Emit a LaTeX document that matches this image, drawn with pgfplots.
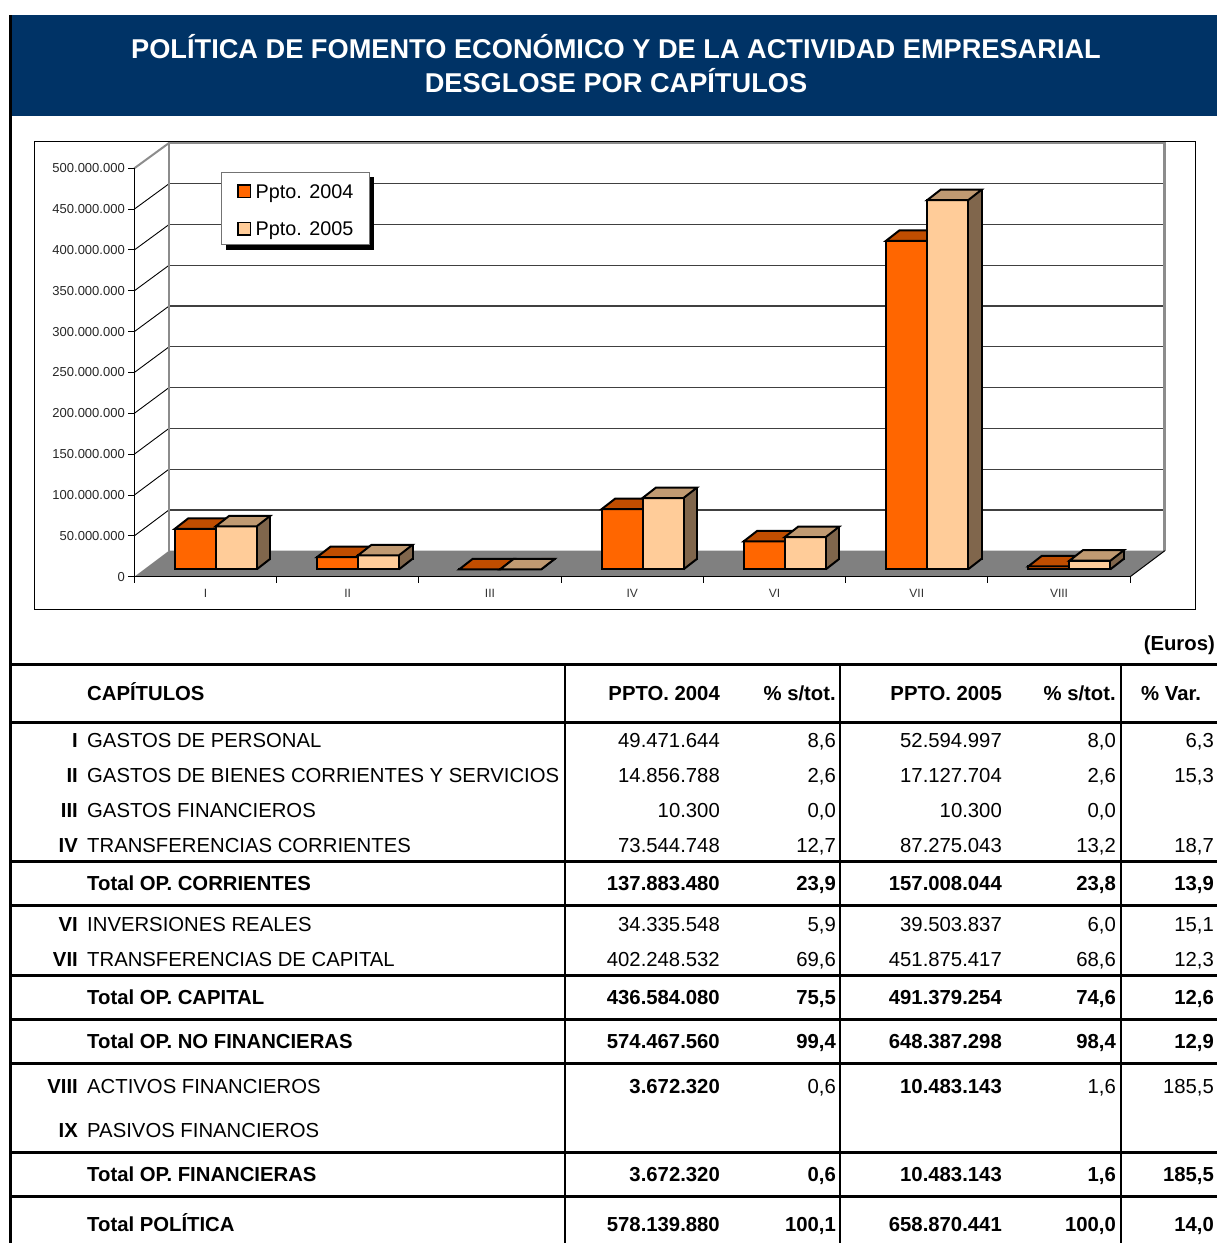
\documentclass[border=0pt]{standalone}
\usepackage{pgfplots}
\pgfplotsset{compat=1.18}
\usepackage{pgfplotstable}
\usepackage{fontspec}
\setmainfont{Liberation Sans}
\definecolor{navy}{HTML}{003366}
\definecolor{orF}{HTML}{FF6600}
\definecolor{orT}{HTML}{C04D00}
\definecolor{ltF}{HTML}{FFCC99}
\definecolor{ltT}{HTML}{C09A72}
\definecolor{ltS}{HTML}{80664C}
\definecolor{wallgray}{HTML}{8C8C8C}

\pgfplotstableread{
x v04 v05
0.5 49471644 52594997
1.5 14856788 17127704
2.5 10300 10300
3.5 73544748 87275043
4.5 34335548 39503837
5.5 402248532 451875417
6.5 3672320 10483143
}\budget

% top face of a bar (mark at front top edge, x0..x1)
\newcommand\topface[3]{%
  \pgfsetlinewidth{2pt}\pgfsetmiterjoin
  \pgfsetstrokecolor{black}\pgfsetfillcolor{#3}%
  \pgfpathmoveto{\pgfqpoint{#1}{0pt}}%
  \pgfpathlineto{\pgfqpoint{#2}{0pt}}%
  \pgfpathlineto{\pgfqpoint{\dimexpr#2+13.5pt\relax}{10.5pt}}%
  \pgfpathlineto{\pgfqpoint{\dimexpr#1+13.5pt\relax}{10.5pt}}%
  \pgfpathclose
  \pgfusepath{fill,stroke}}
\pgfdeclareplotmark{top04}{\topface{-41pt}{0pt}{orT}}
\pgfdeclareplotmark{top05}{\topface{0pt}{41pt}{ltT}}
% lower corner of the side face (mark at bar foot)
\pgfdeclareplotmark{bot05}{%
  \pgfsetfillcolor{ltS}%
  \pgfpathmoveto{\pgfqpoint{41pt}{0pt}}%
  \pgfpathlineto{\pgfqpoint{54.5pt}{10.5pt}}%
  \pgfpathlineto{\pgfqpoint{54.5pt}{11.5pt}}%
  \pgfpathlineto{\pgfqpoint{41pt}{11.5pt}}%
  \pgfpathclose
  \pgfusepath{fill}%
  \pgfsetlinewidth{2pt}\pgfsetstrokecolor{black}%
  \pgfpathmoveto{\pgfqpoint{41pt}{0pt}}%
  \pgfpathlineto{\pgfqpoint{54.5pt}{10.5pt}}%
  \pgfusepath{stroke}}

\newcommand\tf{\fontsize{20.3}{24}\selectfont}
\newcommand\trow[9]{% y, numeral, name, v1, p1, v2, p2, var, font
  \node[anchor=base east] at (78,#1+7) {#9\bfseries #2};
  \node[anchor=base west] at (87,#1+7) {#9#3};
  \node[anchor=base east] at (720,#1+7) {#9#4};
  \node[anchor=base east] at (836,#1+7) {#9#5};
  \node[anchor=base east] at (1002,#1+7) {#9#6};
  \node[anchor=base east] at (1116,#1+7) {#9#7};
  \node[anchor=base east] at (1214,#1+7) {#9#8};
}
\pgfplotsset{barax/.style={anchor=south west, scale only axis,
  width=995.9pt, height=408.4pt, xmin=0, xmax=7, ymin=0, ymax=500000000,
  hide axis, clip=false}}

\begin{document}
\begin{tikzpicture}[x=1pt,y=-1pt]
\useasboundingbox (0,0) rectangle (1217,1243);
\clip (0,0) rectangle (1217,1243);
% header
\fill[navy] (12,15) rectangle (1217,116);
\draw[line width=3pt] (10.5,15) -- (10.5,1243);
\node[text=white, font=\fontsize{27.2}{30}\selectfont\bfseries] at (616,47) {POLÍTICA DE FOMENTO ECONÓMICO Y DE LA ACTIVIDAD EMPRESARIAL};
\node[text=white, font=\fontsize{27.2}{30}\selectfont\bfseries] at (616,81) {DESGLOSE POR CAPÍTULOS};

% chart frame
\draw[line width=1pt] (34,141.5) rectangle (1195.5,609);
% back wall
\foreach \k in {1,...,9}{
  \draw[line width=1.2pt, black!75] (169,550.7-40.77*\k) -- (1164.5,550.7-40.77*\k);
  \draw[line width=0.9pt] (134.3,576.7-40.84*\k) -- (169,550.7-40.77*\k);
}
\draw[line width=2.5pt, wallgray] (169,550.7) -- (169,143) -- (1164.5,143) -- (1164.5,550.7);
\draw[line width=2pt, wallgray] (134.3,168.3) -- (169,143);
% floor
\fill[black!50] (134.3,576.7) -- (1130.2,576.7) -- (1164.8,550.7) -- (169,550.7) -- cycle;
\draw[line width=1pt] (1130.2,576.7) -- (1164.8,550.7);

% front axes
\begin{axis}[at={(134.3pt,-576.7pt)}, anchor=south west, scale only axis,
  width=995.9pt, height=408.4pt,
  xmin=0, xmax=7, ymin=0, ymax=500000000,
  scaled y ticks=false,
  axis lines*=left, axis line style={black, line width=1pt},
  tick align=outside, major tick length=6pt, tick style={black, line width=1pt},
  xtick={0,1,2,3,4,5,6,7}, xticklabels={},
  extra x ticks={0.5,1.5,2.5,3.5,4.5,5.5,6.5},
  extra x tick labels={I,II,III,IV,VI,VII,VIII},
  extra x tick style={major tick length=0pt, xticklabel style={yshift=-9pt}},
  xticklabel style={font=\fontsize{12}{12}\selectfont, text=black!80},
  ytick={0,50000000,100000000,150000000,200000000,250000000,300000000,350000000,400000000,450000000,500000000},
  yticklabels={0,50.000.000,100.000.000,150.000.000,200.000.000,250.000.000,300.000.000,350.000.000,400.000.000,450.000.000,500.000.000},
  yticklabel style={font=\fontsize{13}{13}\selectfont, text=black!85},
  clip=false]
\end{axis}

% bars 2004: front face and top
\begin{axis}[barax, at={(144.6pt,-569.3pt)}]
\addplot[ybar, bar width=41pt, bar shift=-20.5pt, fill=orF, draw=black, line width=2pt]
  table[x=x, y=v04] {\budget};
\addplot[only marks, mark=top04] table[x=x, y=v04] {\budget};
\end{axis}
% bars 2005: back plane (side face)
\begin{axis}[barax, at={(158.1pt,-558.8pt)}]
\addplot[ybar, bar width=41pt, bar shift=20.5pt, fill=ltS, draw=none]
  table[x=x, y=v05] {\budget};
\end{axis}
\begin{axis}[barax, at={(144.6pt,-569.3pt)}]
\addplot[only marks, mark=bot05] table[x=x, y expr=0] {\budget};
\end{axis}
\begin{axis}[barax, at={(158.1pt,-558.8pt)}]
\addplot[ybar, bar width=0.01pt, bar shift=41pt, fill=none, draw=black, line width=2pt]
  table[x=x, y=v05] {\budget};
\end{axis}
% bars 2005: front face and top
\begin{axis}[barax, at={(144.6pt,-569.3pt)}]
\addplot[ybar, bar width=41pt, bar shift=20.5pt, fill=ltF, draw=black, line width=2pt]
  table[x=x, y=v05] {\budget};
\addplot[only marks, mark=top05] table[x=x, y=v05] {\budget};
\end{axis}

% legend
\fill[black] (226,176.5) rectangle (373.5,249.5);
\draw[fill=white, draw=black!55, line width=1pt] (221.7,172.3) rectangle (369.3,244.3);
\draw[fill=orF, line width=1.5pt] (238,185) rectangle (250.7,197.3);
\draw[fill=ltF, line width=1.5pt] (238,222.5) rectangle (250.7,234.8);
\node[anchor=base west, inner sep=0pt, font=\fontsize{19.8}{20}\selectfont] at (255.5,198.3) {Ppto. 2004};
\node[anchor=base west, inner sep=0pt, font=\fontsize{19.8}{20}\selectfont] at (255.5,235.8) {Ppto. 2005};

% table
\node[anchor=base east, inner sep=0pt, font=\tf\bfseries] at (1215,650) {(Euros)};
\foreach \yy in {664,722,861,905,975,1019,1063,1152,1196}
  \draw[line width=3pt] (12,\yy) -- (1217,\yy);
\foreach \xx in {565,840,1121}
  \draw[line width=1.5pt] (\xx,664) -- (\xx,1243);
\begin{scope}[every node/.style={inner sep=0pt, font=\tf}]
\node[anchor=base west] at (87,700) {\bfseries CAPÍTULOS};
\node[anchor=base east] at (720,700) {\bfseries PPTO. 2004};
\node[anchor=base east] at (836,700) {\bfseries \% s/tot.};
\node[anchor=base east] at (1002,700) {\bfseries PPTO. 2005};
\node[anchor=base east] at (1116,700) {\bfseries \% s/tot.};
\node[anchor=base west] at (1141,700) {\bfseries \% Var.};
\trow{740}{I}{GASTOS DE PERSONAL}{49.471.644}{8,6}{52.594.997}{8,0}{6,3}{}
\trow{775}{II}{GASTOS DE BIENES CORRIENTES Y SERVICIOS}{14.856.788}{2,6}{17.127.704}{2,6}{15,3}{}
\trow{810}{III}{GASTOS FINANCIEROS}{10.300}{0,0}{10.300}{0,0}{}{}
\trow{845}{IV}{TRANSFERENCIAS CORRIENTES}{73.544.748}{12,7}{87.275.043}{13,2}{18,7}{}
\trow{883}{}{Total OP. CORRIENTES}{137.883.480}{23,9}{157.008.044}{23,8}{13,9}{\bfseries}
\trow{924}{VI}{INVERSIONES REALES}{34.335.548}{5,9}{39.503.837}{6,0}{15,1}{}
\trow{959}{VII}{TRANSFERENCIAS DE CAPITAL}{402.248.532}{69,6}{451.875.417}{68,6}{12,3}{}
\trow{997}{}{Total OP. CAPITAL}{436.584.080}{75,5}{491.379.254}{74,6}{12,6}{\bfseries}
\trow{1041}{}{Total OP. NO FINANCIERAS}{574.467.560}{99,4}{648.387.298}{98,4}{12,9}{\bfseries}
\trow{1086}{VIII}{ACTIVOS FINANCIEROS}{\bfseries 3.672.320}{0,6}{\bfseries 10.483.143}{1,6}{185,5}{}
\trow{1130}{IX}{PASIVOS FINANCIEROS}{}{}{}{}{}{}
\trow{1174}{}{Total OP. FINANCIERAS}{3.672.320}{0,6}{10.483.143}{1,6}{185,5}{\bfseries}
\trow{1224}{}{Total POLÍTICA}{578.139.880}{100,1}{658.870.441}{100,0}{14,0}{\bfseries}
\end{scope}
\end{tikzpicture}
\end{document}
